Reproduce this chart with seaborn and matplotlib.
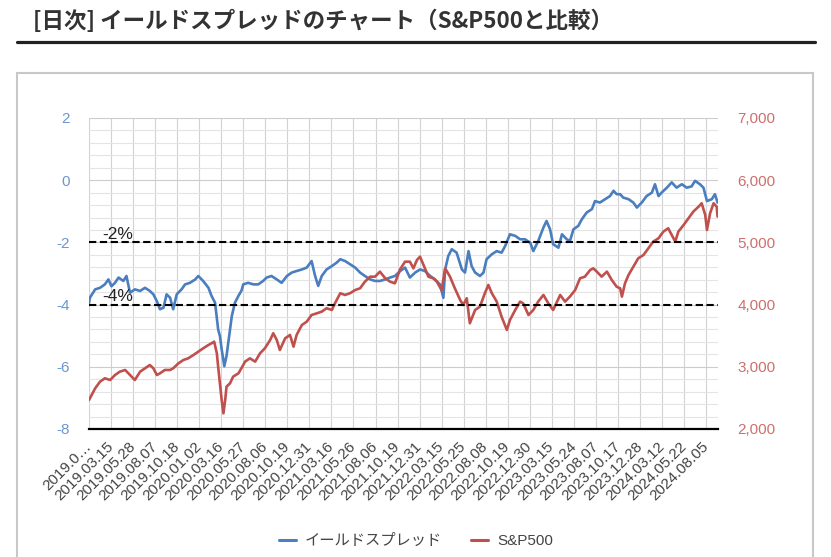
import matplotlib
matplotlib.use("Agg")
import matplotlib.pyplot as plt
import seaborn as sns
import pandas as pd
from matplotlib.lines import Line2D
from matplotlib.patches import Rectangle
from matplotlib.ticker import MultipleLocator, FuncFormatter

# ---------------- data (trading-day index since 2019-01-02) ----------------
title_text = "[日次] イールドスプレッドのチャート（S&P500と比較）"
series_names = ["イールドスプレッド", "S&P500"]

tick_days = list(range(0, 1401, 50))
tick_labels = ["2019.0…", "2019.03.15", "2019.05.28", "2019.08.07", "2019.10.18",
               "2020.01.02", "2020.03.16", "2020.05.27", "2020.08.06", "2020.10.19",
               "2020.12.31", "2021.03.16", "2021.05.26", "2021.08.06", "2021.10.19",
               "2021.12.31", "2022.03.15", "2022.05.25", "2022.08.08", "2022.10.19",
               "2022.12.30", "2023.03.15", "2023.05.24", "2023.08.07", "2023.10.17",
               "2023.12.28", "2024.03.12", "2024.05.22", "2024.08.05"]
total_days = 1427

spread_days = [0, 2, 14, 25, 36, 44, 51, 59, 67, 78, 85, 93, 104, 116, 127, 138, 146, 154, 161, 169,
               176, 184, 191, 199, 210, 218, 229, 241, 248, 259, 271, 278, 286, 293, 297, 301, 307, 312,
               318, 324, 331, 339, 346, 350, 361, 373, 384, 395, 403, 414, 426, 437, 449, 460, 471, 483,
               494, 505, 513, 520, 528, 539, 551, 562, 570, 581, 592, 604, 615, 626, 638, 649, 660, 672,
               683, 694, 706, 717, 728, 740, 751, 762, 774, 785, 796, 804, 808, 815, 823, 834, 846, 853,
               861, 868, 876, 887, 895, 902, 914, 925, 936, 944, 955, 967, 978, 989, 1001, 1008, 1019,
               1031, 1038, 1046, 1053, 1065, 1073, 1084, 1091, 1099, 1110, 1118, 1129, 1141, 1148, 1159,
               1171, 1182, 1190, 1197, 1205, 1212, 1224, 1235, 1243, 1254, 1265, 1277, 1284, 1292, 1299,
               1311, 1322, 1333, 1345, 1356, 1367, 1375, 1386, 1394, 1402, 1413, 1420, 1426]
spread_values = [-3.95, -3.78, -3.51, -3.46, -3.35, -3.19, -3.41, -3.30, -3.13, -3.24, -3.08, -3.62, -3.51,
                 -3.56, -3.46, -3.56, -3.67, -3.89, -4.15, -4.10, -3.67, -3.78, -4.15, -3.67, -3.51, -3.35,
                 -3.30, -3.19, -3.08, -3.24, -3.46, -3.72, -3.94, -4.80, -5.01, -5.44, -5.98, -5.65, -5.01,
                 -4.37, -3.94, -3.72, -3.55, -3.35, -3.30, -3.35, -3.35, -3.24, -3.13, -3.08, -3.19, -3.30,
                 -3.08, -2.97, -2.92, -2.87, -2.81, -2.60, -3.08, -3.40, -3.08, -2.87, -2.76, -2.65, -2.54,
                 -2.60, -2.70, -2.81, -2.97, -3.08, -3.19, -3.24, -3.24, -3.19, -3.13, -3.08, -2.92, -2.81,
                 -3.13, -2.97, -2.87, -2.92, -3.08, -3.19, -3.35, -3.78, -2.87, -2.44, -2.22, -2.33, -2.87,
                 -2.97, -2.28, -2.76, -2.97, -3.08, -2.97, -2.54, -2.38, -2.28, -2.33, -2.12, -1.74, -1.79,
                 -1.90, -1.90, -2.01, -2.28, -1.96, -1.52, -1.31, -1.58, -2.06, -2.17, -1.74, -1.90, -1.96,
                 -1.58, -1.47, -1.26, -1.04, -0.93, -0.67, -0.72, -0.61, -0.51, -0.34, -0.45, -0.45, -0.56,
                 -0.61, -0.72, -0.88, -0.72, -0.51, -0.40, -0.13, -0.51, -0.40, -0.24, -0.07, -0.24, -0.13,
                 -0.24, -0.20, -0.02, -0.13, -0.24, -0.67, -0.61, -0.45, -0.72]

sp500_days = [0, 14, 25, 36, 48, 59, 70, 82, 93, 104, 116, 127, 138, 146, 154, 161, 172, 184, 191, 203,
              214, 225, 237, 248, 259, 271, 278, 284, 290, 293, 297, 301, 305, 309, 312, 320, 327, 339,
              350, 354, 365, 377, 388, 399, 411, 418, 426, 433, 445, 456, 464, 471, 483, 494, 505, 517,
              528, 539, 551, 558, 570, 581, 592, 604, 615, 626, 638, 649, 660, 672, 683, 694, 706, 717,
              728, 736, 744, 751, 759, 770, 781, 789, 800, 808, 819, 830, 842, 849, 857, 864, 876, 887,
              898, 906, 914, 925, 936, 948, 955, 967, 978, 985, 997, 1008, 1019, 1031, 1042, 1053, 1069,
              1080, 1091, 1103, 1114, 1125, 1137, 1144, 1152, 1163, 1175, 1186, 1197, 1205, 1209, 1216,
              1224, 1235, 1246, 1258, 1269, 1280, 1292, 1303, 1314, 1322, 1330, 1337, 1349, 1360, 1371,
              1383, 1390, 1398, 1402, 1409, 1417, 1424, 1426]
sp500_values = [2466, 2654, 2761, 2815, 2788, 2868, 2922, 2949, 2868, 2788, 2922, 2976, 3029, 2976, 2868,
                2895, 2949, 2949, 2976, 3056, 3109, 3136, 3190, 3243, 3297, 3351, 3378, 3404, 3217, 3002,
                2735, 2466, 2252, 2466, 2681, 2735, 2842, 2895, 3029, 3083, 3136, 3083, 3217, 3297, 3431,
                3539, 3431, 3270, 3458, 3512, 3324, 3512, 3672, 3726, 3833, 3860, 3887, 3941, 3914, 4021,
                4182, 4155, 4182, 4235, 4262, 4369, 4449, 4449, 4530, 4423, 4369, 4342, 4570, 4690, 4690,
                4583, 4717, 4771, 4637, 4449, 4423, 4369, 4235, 4583, 4449, 4262, 4075, 3994, 4102, 3700,
                3914, 3967, 4182, 4316, 4182, 4048, 3806, 3592, 3753, 3914, 4048, 4021, 3833, 3914, 4048,
                4155, 4021, 3914, 4155, 4048, 4128, 4235, 4423, 4449, 4556, 4583, 4530, 4449, 4530, 4396,
                4288, 4262, 4128, 4342, 4476, 4610, 4744, 4798, 4906, 5012, 5066, 5173, 5227, 5120, 5012,
                5173, 5280, 5388, 5495, 5575, 5629, 5441, 5200, 5468, 5629, 5575, 5415]

threshold_levels = [-2, -4]
threshold_labels = ["-2%", "-4%"]

# ---------------- style ----------------
BLUE = "#4a7ebf"
RED = "#c0504d"
BLUE_TXT = "#6a96d0"
RED_TXT = "#cd6f6d"
GRAY_TXT = "#444444"

sns.set_style("white")
plt.rcParams['font.family'] = ['Liberation Sans', 'Noto Sans CJK JP', 'DejaVu Sans']
plt.rcParams['axes.unicode_minus'] = False

W, H = 831, 557
fig = plt.figure(figsize=(W / 100, H / 100), dpi=100)
ax = fig.add_axes([89 / W, 1 - 429 / H, (718 - 89) / W, (429 - 118) / H])
ax2 = ax.twinx()

df_spread = pd.DataFrame({"day": spread_days, "value": spread_values})
df_sp = pd.DataFrame({"day": sp500_days, "value": sp500_values})

sns.lineplot(data=df_spread, x="day", y="value", ax=ax, color=BLUE, linewidth=1.9,
             estimator=None, sort=False)
sns.lineplot(data=df_sp, x="day", y="value", ax=ax2, color=RED, linewidth=1.9,
             estimator=None, sort=False)

ax.set_xlim(0, total_days)
ax.set_ylim(-8, 2)
ax2.set_ylim(2000, 7000)
for a in (ax, ax2):
    a.set_xlabel("")
    a.set_ylabel("")
    for s in a.spines.values():
        s.set_visible(False)
ax.spines['bottom'].set_visible(True)
ax.spines['bottom'].set_color("black")
ax.spines['bottom'].set_linewidth(1.6)
ax.spines['bottom'].set_zorder(6)

# grid
ax.set_yticks(list(range(-8, 3, 2)))
ax.yaxis.set_minor_locator(MultipleLocator(0.4))
ax.set_axisbelow(True)
ax.grid(which='minor', axis='y', color='#e4e4e4', linewidth=0.8)
ax.grid(which='major', axis='y', color='#cccccc', linewidth=0.8)
ax.grid(which='major', axis='x', color='#d2d2d2', linewidth=0.8)

ax.set_xticks(tick_days)
ax.set_xticklabels(tick_labels, rotation=45, ha='right', va='center',
                   rotation_mode='anchor', fontsize=11, color=GRAY_TXT)
ax.tick_params(axis='x', length=0, pad=11)
ax.tick_params(axis='y', which='both', length=0, labelsize=11, labelcolor=BLUE_TXT, pad=14)
ax.yaxis.set_major_formatter(FuncFormatter(lambda v, p: f"{v:.0f}"))

ax2.set_yticks(list(range(2000, 7001, 1000)))
ax2.yaxis.set_major_formatter(FuncFormatter(lambda v, p: f"{v:,.0f}"))
ax2.tick_params(axis='y', length=0, labelsize=11, labelcolor=RED_TXT, pad=14)

# threshold dashed lines on top
ax2.hlines(threshold_levels, 0, 1, transform=ax.get_yaxis_transform(),
           colors='black', linestyles=(0, (3.5, 1.7)), linewidth=1.5, zorder=5)
for lvl, lab in zip(threshold_levels, threshold_labels):
    ax2.text(0.021, lvl + 0.1, lab, transform=ax.get_yaxis_transform(),
             fontsize=12.5, color='#222222', ha='left', va='baseline', zorder=6)

# legend
handles = [Line2D([], [], color=BLUE, lw=2.2), Line2D([], [], color=RED, lw=2.2)]
fig.legend(handles, series_names, loc='center', bbox_to_anchor=(416 / W, 1 - 541 / H),
           ncol=2, frameon=False, fontsize=11, handlelength=1.1, handletextpad=0.6,
           columnspacing=1.9, labelcolor=GRAY_TXT)

# title, underline, chart box
fig.text(33 / W, 1 - 21 / H, title_text, fontsize=16.2, fontweight='bold', color='#333333',
         ha='left', va='center', family=['Noto Sans CJK JP'])
fig.add_artist(Line2D([17 / W, 815 / W], [1 - 42 / H, 1 - 42 / H], color='#222222', lw=2.3))
fig.add_artist(Rectangle((17 / W, -0.05), (813 - 17) / W, 1 - 73 / H + 0.05,
                         fill=False, edgecolor='#c8c8c8', lw=1.5))

fig.savefig("out.png", dpi=100)
